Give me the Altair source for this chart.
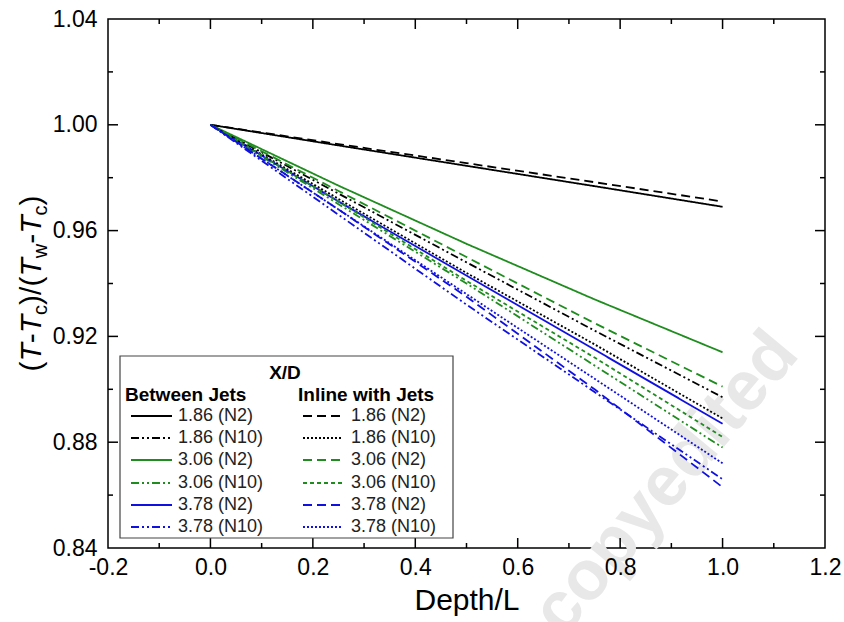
import altair as alt
import pandas as pd

# ---------------- data ----------------
depth = [0.0, 0.25, 0.5, 0.75, 1.0]

between_186_n2 = [1.0, 0.9922, 0.9845, 0.9768, 0.969]
between_186_n10 = [1.0, 0.9740, 0.9480, 0.9222, 0.897]
between_306_n2 = [1.0, 0.9770, 0.9550, 0.9340, 0.914]
between_306_n10 = [1.0, 0.9700, 0.9400, 0.9090, 0.878]
between_378_n2 = [1.0, 0.9710, 0.9430, 0.9150, 0.887]
between_378_n10 = [1.0, 0.9660, 0.9320, 0.8990, 0.866]

inline_186_n2 = [1.0, 0.9927, 0.9855, 0.9783, 0.971]
inline_186_n10 = [1.0, 0.9720, 0.9440, 0.9170, 0.889]
inline_306_n2 = [1.0, 0.9750, 0.9500, 0.9250, 0.901]
inline_306_n10 = [1.0, 0.9710, 0.9410, 0.9120, 0.882]
inline_378_n2 = [1.0, 0.9680, 0.9350, 0.9000, 0.863]
inline_378_n10 = [1.0, 0.9680, 0.9360, 0.9040, 0.872]

legend_labels = ["1.86 (N2)", "1.86 (N10)", "3.06 (N2)", "3.06 (N10)", "3.78 (N2)", "3.78 (N10)"]

x_label_values = [-0.2, 0.0, 0.2, 0.4, 0.6, 0.8, 1.0, 1.2]
y_label_values = [0.84, 0.88, 0.92, 0.96, 1.00, 1.04]
x_major_ticks = [0.0, 0.2, 0.4, 0.6, 0.8, 1.0]
x_minor_ticks = [-0.1, 0.1, 0.3, 0.5, 0.7, 0.9, 1.1]
y_major_ticks = [0.88, 0.92, 0.96, 1.00]
y_minor_ticks = [0.86, 0.90, 0.94, 0.98, 1.02]

# ---------------- styles ----------------
BLACK, GREEN, BLUE = "#000000", "#1e8c1e", "#1010e0"
SOLID = [1, 0]
DASH = [9, 5]
DASHDOTDOT = [8, 3, 2, 3, 2, 3]
DOT = [2, 2]
SHORTDASH = [4, 3]

between_series = [between_186_n2, between_186_n10, between_306_n2,
                  between_306_n10, between_378_n2, between_378_n10]
inline_series = [inline_186_n2, inline_186_n10, inline_306_n2,
                 inline_306_n10, inline_378_n2, inline_378_n10]
colors6 = [BLACK, BLACK, GREEN, GREEN, BLUE, BLUE]
between_dash = [SOLID, DASHDOTDOT, SOLID, DASHDOTDOT, SOLID, DASHDOTDOT]
inline_dash = [DASH, DOT, DASH, SHORTDASH, DASH, DOT]

names, cols, dashes, rows = [], [], [], []
for grp, ser_list, dlist in (("Between", between_series, between_dash),
                             ("Inline", inline_series, inline_dash)):
    for lab, ser, c, d in zip(legend_labels, ser_list, colors6, dlist):
        nm = f"{grp} {lab}"
        names.append(nm)
        cols.append(c)
        dashes.append(d)
        for xv, yv in zip(depth, ser):
            rows.append({"series": nm, "depth": xv, "theta": yv})
df = pd.DataFrame(rows)

W, H = 717, 529
FONT = "Liberation Sans"
xscale = alt.Scale(domain=[-0.2, 1.2], nice=False, zero=False)
yscale = alt.Scale(domain=[0.84, 1.04], nice=False, zero=False)
xaxis = alt.Axis(
    values=x_label_values, ticks=False, domain=False, grid=False, zindex=1,
    labelExpr="datum.value < 0 ? '-' + format(-datum.value, '.1f') : format(datum.value, '.1f')",
    labelFontSize=23, labelFont=FONT, labelColor="black", labelPadding=8,
    labelFlush=False, labelOverlap=False,
    title="Depth/L", titleFontSize=30, titleFont=FONT, titleFontWeight="normal",
    titleColor="black", titlePadding=6)
yaxis = alt.Axis(
    values=y_label_values, format=".2f", ticks=False, domain=False, grid=False, zindex=1,
    labelFontSize=23, labelFont=FONT, labelColor="black", labelPadding=11,
    labelFlush=False, labelOverlap=False, title=None)
one = pd.DataFrame({"a": [0]})

layers = []

# watermark
layers.append(alt.Chart(one).mark_text(
    text="Uncopyedited", angle=310, fontSize=70, fontWeight="bold", font=FONT,
    color="#e8e8e8", align="center", baseline="middle"
).encode(x=alt.value(528), y=alt.value(500)))

# data lines
lines = alt.Chart(df).mark_line(strokeWidth=1.8, clip=True).encode(
    x=alt.X("depth:Q", scale=xscale, axis=xaxis, title="Depth/L"),
    y=alt.Y("theta:Q", scale=yscale, axis=yaxis),
    color=alt.Color("series:N", scale=alt.Scale(domain=names, range=cols), legend=None),
    strokeDash=alt.StrokeDash("series:N", scale=alt.Scale(domain=names, range=dashes), legend=None),
    detail="series:N",
)
layers.append(lines)

# inward ticks on all four sides
def tick_layers(vals, axis, length):
    d = pd.DataFrame({"depth": vals, "theta": vals})
    base = alt.Chart(d).mark_rule(color="black", strokeWidth=1.5)
    if axis == "x":
        enc = alt.X("depth:Q", scale=xscale, axis=xaxis, title="Depth/L")
        return [base.encode(x=enc, y=alt.value(H), y2=alt.value(H - length)),
                base.encode(x=enc, y=alt.value(0), y2=alt.value(length))]
    enc = alt.Y("theta:Q", scale=yscale, axis=yaxis)
    return [base.encode(y=enc, x=alt.value(0), x2=alt.value(length)),
            base.encode(y=enc, x=alt.value(W), x2=alt.value(W - length))]

layers += tick_layers(x_major_ticks, "x", 10)
layers += tick_layers(x_minor_ticks, "x", 5)
layers += tick_layers(y_major_ticks, "y", 10)
layers += tick_layers(y_minor_ticks, "y", 5)

# y-axis title built from pieces: (T-Tc)/(Tw-Tc)
TS, SS = 30, 20
pieces = [("(", False, False, 0.333), ("T", True, False, 0.611), ("-", False, False, 0.333),
          ("T", True, False, 0.611), ("c", False, True, 0.5), (")/(", False, False, 0.944),
          ("T", True, False, 0.611), ("w", False, True, 0.722), ("-", False, False, 0.333),
          ("T", True, False, 0.611), ("c", False, True, 0.5), (")", False, False, 0.333)]
total = sum((SS if sub else TS) * w for _, _, sub, w in pieces)
ypos = H / 2 + total / 2
xbase = -67
for txt, ital, sub, w in pieces:
    size = SS if sub else TS
    layers.append(alt.Chart(one).mark_text(
        text=txt, angle=270, align="left", baseline="alphabetic", font=FONT,
        fontSize=size, fontStyle="italic" if ital else "normal", color="black"
    ).encode(x=alt.value(xbase + (6 if sub else 0)), y=alt.value(ypos)))
    ypos -= size * w

# legend box
LX0, LX1, LY0, LY1 = 12, 345, 337, 519
layers.append(alt.Chart(one).mark_rect(fill="white", stroke="#444444", strokeWidth=1.2).encode(
    x=alt.value(LX0), x2=alt.value(LX1), y=alt.value(LY0), y2=alt.value(LY1)))
layers.append(alt.Chart(one).mark_text(text="X/D", fontSize=19, fontWeight="bold", font=FONT,
                                       align="center", baseline="middle", color="black").encode(
    x=alt.value(177), y=alt.value(354)))
layers.append(alt.Chart(one).mark_text(text="Between Jets", fontSize=19, fontWeight="bold", font=FONT,
                                       align="left", baseline="middle", color="black").encode(
    x=alt.value(17), y=alt.value(376)))
layers.append(alt.Chart(one).mark_text(text="Inline with Jets", fontSize=19, fontWeight="bold", font=FONT,
                                       align="left", baseline="middle", color="black").encode(
    x=alt.value(190), y=alt.value(376)))

row_y = [397, 419, 441, 464, 486, 508]
for i, lab in enumerate(legend_labels):
    for (x0, x1, xt, dl) in ((23, 64, 70, between_dash), (195, 235, 243, inline_dash)):
        layers.append(alt.Chart(one).mark_rule(color=colors6[i], strokeWidth=1.8,
                                               strokeDash=dl[i]).encode(
            x=alt.value(x0), x2=alt.value(x1), y=alt.value(row_y[i])))
        layers.append(alt.Chart(one).mark_text(text=lab, fontSize=18, font=FONT, align="left",
                                               baseline="middle", color="#222222").encode(
            x=alt.value(xt), y=alt.value(row_y[i])))

chart = alt.layer(*layers).properties(
    width=W, height=H,
    autosize=alt.AutoSizeParams(type="none"),
    padding={"left": 108, "top": 19, "right": 19, "bottom": 74},
    background="white",
).configure_view(stroke="black", strokeWidth=1.5)

chart.save("out.html", embed_options={"renderer": "svg", "actions": False})
